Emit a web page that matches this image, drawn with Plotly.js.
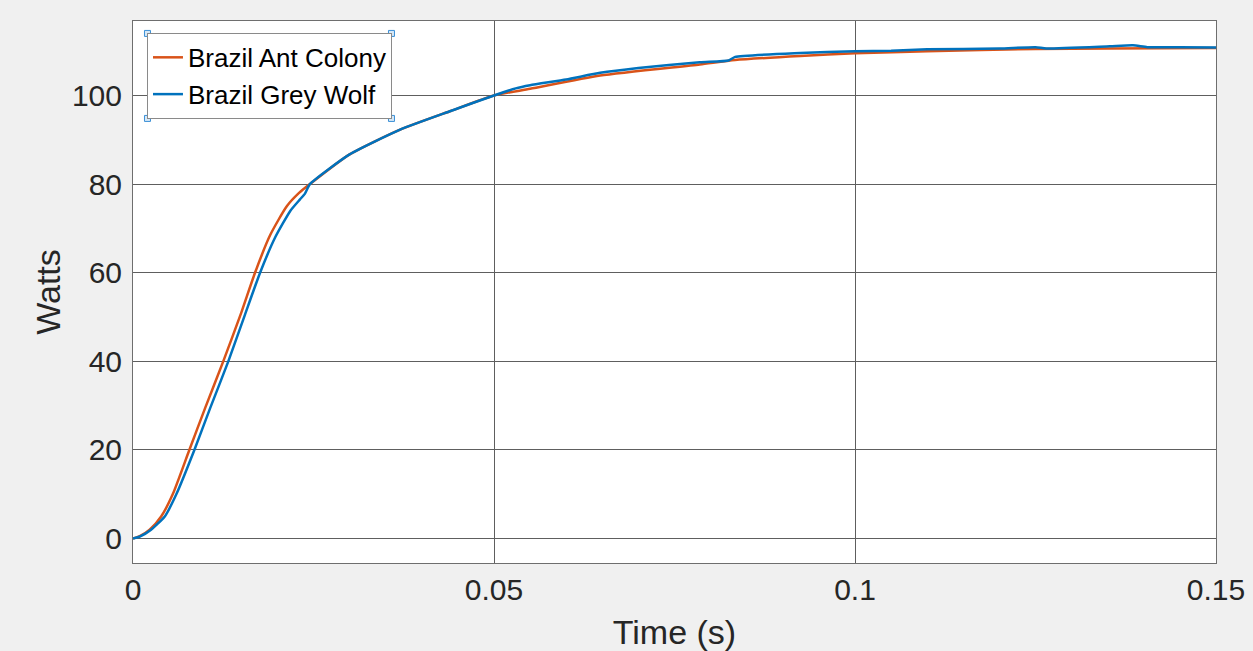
<!DOCTYPE html>
<html>
<head>
<meta charset="utf-8">
<script src="https://cdn.plot.ly/plotly-3.0.1.min.js"></script>
<style>html,body{margin:0;padding:0;background:#f0f0f0;}#chart{width:1253px;height:651px;}</style>
</head>
<body>
<div id="chart"></div>
<script>
// Brazil Ant Colony (orange)
const antTime  = [0, 0.001, 0.0023, 0.0039, 0.0055, 0.0078, 0.0100, 0.0125, 0.0150, 0.0169, 0.0190, 0.0213, 0.0230, 0.0245, 0.030, 0.037, 0.044, 0.050, 0.055, 0.0647, 0.0785, 0.0834, 0.0924, 0.1, 0.11, 0.125, 0.135, 0.15];
const antWatts = [0, 0.6, 2, 5, 10, 20, 29.5, 40, 51, 60, 68.5, 75, 78, 80, 86.7, 92.3, 96.5, 100, 101.5, 104.5, 107.0, 108.0, 108.9, 109.5, 110.0, 110.5, 110.6, 110.7];
// Brazil Grey Wolf (blue)
const wolfTime  = [0, 0.001, 0.0025, 0.0044, 0.0060, 0.0085, 0.0107, 0.0132, 0.0155, 0.0176, 0.0197, 0.0218, 0.0231, 0.0238, 0.0245, 0.030, 0.037, 0.044, 0.050, 0.053, 0.055, 0.060, 0.0647, 0.070, 0.0785, 0.0825, 0.0834, 0.0924, 0.1, 0.105, 0.11, 0.12, 0.125, 0.1265, 0.1353, 0.1385, 0.1405, 0.145, 0.15];
const wolfWatts = [0, 0.5, 2, 5, 10, 20, 29.5, 40, 50.5, 60, 68, 74, 76.5, 77.8, 80, 86.7, 92.3, 96.5, 100, 101.6, 102.3, 103.6, 105.1, 106.2, 107.5, 107.9, 108.7, 109.6, 110.0, 110.1, 110.4, 110.6, 110.9, 110.6, 111.1, 111.3, 110.9, 110.9, 110.8];

const xTickVals = [0, 0.05, 0.1, 0.15];
const xTickText = ['0', '0.05', '0.1', '0.15'];
const yTickVals = [0, 20, 40, 60, 80, 100];
const yTickText = ['0', '20', '40', '60', '80', '100'];

const FONT = 'Liberation Sans, Arial, sans-serif';

const traces = [
  {x: antTime, y: antWatts, type: 'scatter', mode: 'lines', name: 'Brazil Ant Colony',
   line: {color: '#d95319', width: 2.5, shape: 'spline', smoothing: 0.6}},
  {x: wolfTime, y: wolfWatts, type: 'scatter', mode: 'lines', name: 'Brazil Grey Wolf',
   line: {color: '#0072bd', width: 2.5, shape: 'spline', smoothing: 0.5}}
];

const layout = {
  width: 1253, height: 651,
  paper_bgcolor: '#f0f0f0', plot_bgcolor: '#ffffff',
  margin: {l: 133, r: 37, t: 21, b: 88},
  font: {family: FONT, color: '#262626', size: 30},
  showlegend: true,
  legend: {
    x: 0.0129, y: 0.978, xanchor: 'left', yanchor: 'top',
    bgcolor: '#ffffff', bordercolor: '#8a8a8a', borderwidth: 1,
    font: {family: FONT, size: 26, color: '#000000'},
    tracegroupgap: 0, itemwidth: 30
  },
  xaxis: {
    range: [0, 0.15], tickvals: xTickVals, ticktext: xTickText,
    showgrid: true, gridcolor: '#5e5e5e', gridwidth: 1,
    zeroline: false, showline: true, linecolor: '#6e6e6e', linewidth: 1, mirror: true,
    ticks: '', tickfont: {size: 30, color: '#262626'},
    title: {text: 'Time (s)', font: {size: 34, color: '#262626'}, standoff: 15}
  },
  yaxis: {
    range: [-5.5, 116.8], tickvals: yTickVals, ticktext: yTickText,
    showgrid: true, gridcolor: '#5e5e5e', gridwidth: 1,
    zeroline: false, showline: true, linecolor: '#6e6e6e', linewidth: 1, mirror: true,
    ticks: '', ticklabelstandoff: 4, tickfont: {size: 30, color: '#262626'},
    title: {text: 'Watts', font: {size: 34, color: '#262626'}, standoff: 1}
  }
};

const gd = document.getElementById('chart');
Plotly.newPlot(gd, traces, layout, {displayModeBar: false, staticPlot: true}).then(() => {
  // small selection handles at the corners of the rendered legend box
  const bg = gd.querySelector('.legend .bg');
  if (!bg) return;
  const r = bg.getBoundingClientRect();
  const g = gd.getBoundingClientRect();
  const fs = gd._fullLayout._size;
  const toPX = px => (px - g.left - fs.l) / fs.w;
  const toPY = py => 1 - (py - g.top - fs.t) / fs.h;
  const xs = [toPX(r.left), toPX(r.right)];
  const ys = [toPY(r.top), toPY(r.bottom)];
  const shapes = [];
  xs.forEach(px => ys.forEach(py => shapes.push({
    type: 'rect', xref: 'paper', yref: 'paper',
    xsizemode: 'pixel', ysizemode: 'pixel', xanchor: px, yanchor: py,
    x0: -3, x1: 3, y0: -3, y1: 3,
    line: {color: '#3a8fd6', width: 1}, fillcolor: '#d6e8f7', layer: 'above'
  })));
  return Plotly.relayout(gd, {shapes: shapes});
});
</script>
</body>
</html>
